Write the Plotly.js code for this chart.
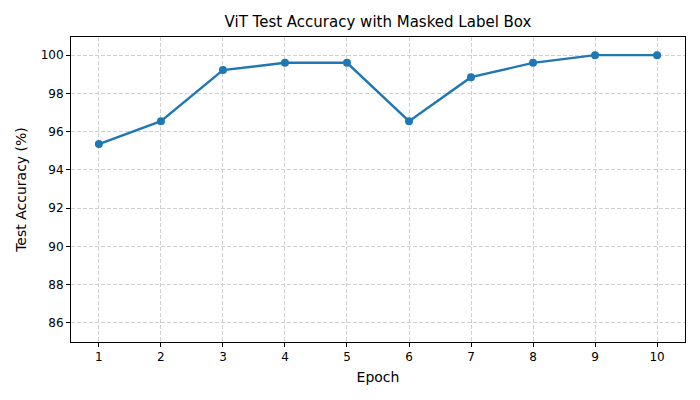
<!DOCTYPE html>
<html>
<head>
<meta charset="utf-8">
<script src="https://cdn.plot.ly/plotly-3.0.1.min.js"></script>
<style>body{margin:0;}</style>
</head>
<body>
<div id="chart" style="width:700px;height:400px;"></div>
<script>
// accuracy per epoch
var epochs = [1, 2, 3, 4, 5, 6, 7, 8, 9, 10];
var accuracy = [95.35, 96.55, 99.22, 99.6, 99.6, 96.55, 98.85, 99.6, 100, 100];

var trace = {
    x: epochs,
    y: accuracy,
    type: 'scatter',
    mode: 'lines+markers',
    line: {color: '#1f77b4', width: 2.4},
    marker: {color: '#1f77b4', size: 8}
}

var gridStyle = {
    showgrid: true,
    gridcolor: '#d0d0d0',
    griddash: '4px,2px',
    gridwidth: 1,
    zeroline: false,
    showline: true,
    mirror: true,
    linecolor: '#000',
    linewidth: 1,
    ticks: 'outside',
    ticklen: 4,
    tickcolor: '#000',
    tickfont: {size: 12}
}

var layout = {
    width: 700,
    height: 400,
    margin: {l: 71, r: 15, t: 37, b: 58},
    paper_bgcolor: '#fff',
    plot_bgcolor: '#fff',
    font: {family: 'DejaVu Sans', size: 12, color: '#000'},
    title: {text: 'ViT Test Accuracy with Masked Label Box', font: {size: 15}, x: 0.54, y: 0.96},
    showlegend: false,
    xaxis: Object.assign({}, gridStyle, {
        range: [0.55, 10.45],
        tickvals: epochs,
        title: {text: 'Epoch', standoff: 8}
    }),
    yaxis: Object.assign({}, gridStyle, {
        range: [85, 100.95],
        tickvals: [86, 88, 90, 92, 94, 96, 98, 100],
        title: {text: 'Test Accuracy (%)', standoff: 10}
    })
}

Plotly.newPlot('chart', [trace], layout, {displayModeBar: false});
</script>
</body>
</html>
